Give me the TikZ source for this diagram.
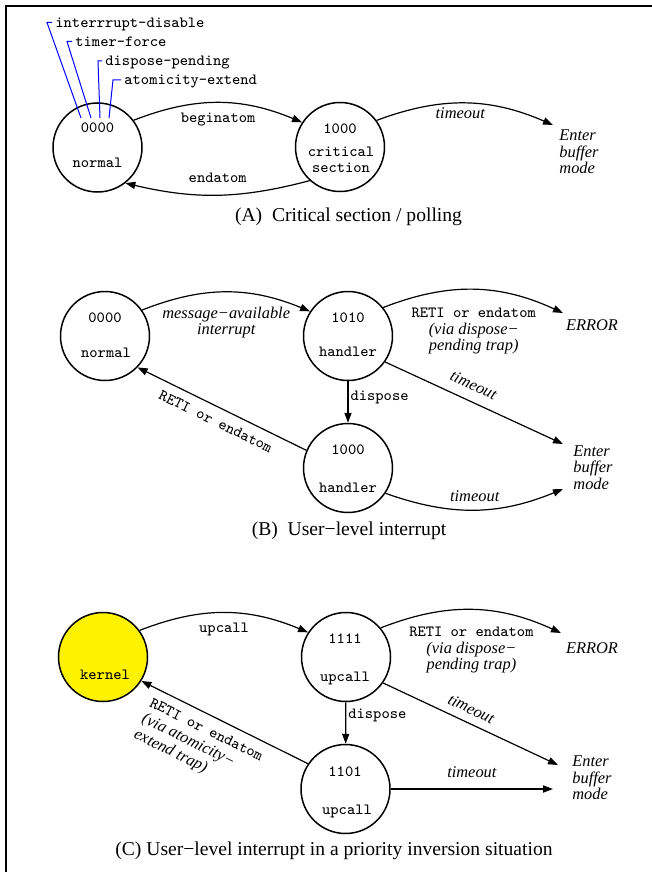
\documentclass[tikz,border=0pt]{standalone}
\usepackage{fontspec}
\setmainfont{Liberation Serif}
\usetikzlibrary{arrows.meta}
\newcommand\bitsfont{\ttfamily\upshape\fontsize{7.8}{8}\selectfont}
\newcommand\condfont{\itshape\fontsize{8.2}{8.2}\selectfont}
\newcommand\captfont{\fontsize{9.8}{11}\selectfont}
\begin{document}
\begin{tikzpicture}[x=0.5pt, y=0.5pt,
  state/.style={circle, draw, line width=0.75pt, minimum size=44.5pt, inner sep=0pt},
  bits/.style={font=\bitsfont, inner sep=0pt, text height=4.6pt, text depth=0pt, align=center},
  cond/.style={font=\condfont, inner sep=1pt, align=center},
  dest/.style={font=\condfont, inner sep=1pt, align=left, anchor=west},
  capt/.style={font=\captfont, inner sep=0pt},
  trans/.style={-{Triangle[length=5pt,width=3.6pt]}, line width=0.6pt},
  bitline/.style={blue, line width=0.5pt}]
\useasboundingbox (0,0) rectangle (652,-872);
\draw[line width=1pt] (5.8,-872) -- (5.8,-6.5) -- (652,-6.5);

\node[state] (nrmA) at (97.5,-147.5){};
\node[bits] (nrmAbits) at (97.5,-128){0000};
\node[bits] (nrmAname) at (97.5,-163){normal};
\node[state] (crtA) at (340,-147){};
\node[bits] (crtAbits) at (340,-129){1000};
\node[bits] (crtAname) at (341,-168){critical\\section};
\node[dest] (bufA) at (557,-152){Enter\\buffer\\mode};
\coordinate (bufAin) at (553,-125);
\draw[trans] (nrmA.37) to[bend left=22] node[bits, below=5pt] (lblBegin){beginatom} (crtA.147);
\draw[trans] (crtA.228) to[bend left=14] node[bits, above=6pt] (lblEnd){endatom} (nrmA.-52);
\draw[trans] (crtA.36) to[bend left=22] node[cond, below=1pt, pos=0.47] (lblToA){timeout} (bufAin);
\node[bits, anchor=west, inner sep=1.5pt] (bitIntr) at (52,-22.5){interrrupt-disable};
\node[bits, anchor=west, inner sep=1.5pt] (bitTimer) at (72,-41.5){timer-force};
\node[bits, anchor=west, inner sep=1.5pt] (bitDisp) at (102,-61){dispose-pending};
\node[bits, anchor=west, inner sep=1.5pt] (bitAtom) at (121,-80){atomicity-extend};
\coordinate (bitIntrEnd) at (81,-118);
\coordinate (bitTimerEnd) at (91,-118);
\coordinate (bitDispEnd) at (100,-118);
\coordinate (bitAtomEnd) at (109,-118);
\draw[bitline] (bitIntr.west) -- (47,-22.5) -- (bitIntrEnd);
\draw[bitline] (bitTimer.west) -- (67,-41.5) -- (bitTimerEnd);
\draw[bitline] (bitDisp.west) -- (98,-61) -- (bitDispEnd);
\draw[bitline] (bitAtom.west) -- (113,-80) -- (bitAtomEnd);
\node[capt] (captA) at (348.5,-217){(A)~~Critical section / polling};

\node[state] (nrmB) at (105,-336){};
\node[bits] (nrmBbits) at (105,-318){0000};
\node[bits] (nrmBname) at (106,-353){normal};
\node[state] (hdlB1) at (348,-336){};
\node[bits] (hdlB1bits) at (348,-318){1010};
\node[bits] (hdlB1name) at (348,-352){handler};
\node[state] (hdlB2) at (348,-468){};
\node[bits] (hdlB2bits) at (348,-450){1000};
\node[bits] (hdlB2name) at (348,-488){handler};
\node[cond] (errB) at (592,-325){ERROR};
\node[dest] (bufB) at (571,-467.5){Enter\\buffer\\mode};
\coordinate (errBin) at (563,-313);
\coordinate (bufBin1) at (563,-444);
\coordinate (bufBin2) at (563,-489);
\draw[trans] (nrmB.35) to[bend left=22] node[cond, below=6pt] (lblMsg){message−available\\interrupt} (hdlB1.147);
\draw[trans] (hdlB2.157) -- node[bits, sloped, below=4.5pt] (lblRetiB){RETI or endatom} (nrmB.-44);
\draw[trans] (hdlB1) -- node[bits, right=1pt, pos=0.35] (lblDispB){dispose} (hdlB2);
\draw[trans] (hdlB1.39) to[bend left=23] node[cond, below=8pt] (lblErrB){{\bitsfont RETI or endatom}\\(via dispose−\\pending trap)} (errBin);
\draw[trans] (hdlB1.-35) -- node[cond, sloped, above=4pt, pos=0.46] (lblToB1){timeout} (bufBin1);
\draw[trans] (hdlB2.-34) to[bend right=21] node[cond, above=3pt] (lblToB2){timeout} (bufBin2);
\node[capt] (captB) at (349,-531){(B)~~User−level interrupt};

\node[state, fill=yellow] (krnC) at (103,-657){};
\node[bits] (krnCname) at (105,-675){kernel};
\node[state] (upcC1) at (346,-657){};
\node[bits] (upcC1bits) at (345,-639){1111};
\node[bits] (upcC1name) at (345,-677){upcall};
\node[state] (upcC2) at (345.5,-789){};
\node[bits] (upcC2bits) at (345,-772){1101};
\node[bits] (upcC2name) at (347,-810){upcall};
\node[cond] (errC) at (592,-648){ERROR};
\node[dest] (bufC) at (570,-778){Enter\\buffer\\mode};
\coordinate (errCin) at (561,-633);
\coordinate (bufCin1) at (558,-765);
\coordinate (bufCin2) at (553,-789);
\draw[trans] (krnC.36) to[bend left=22] node[bits, below=4.75pt] (lblUpc){upcall} (upcC1.147);
\draw[trans] (upcC2.146) -- node[cond, sloped, below=3.5pt, pos=0.57, align=left] (lblRetiC){{\bitsfont RETI or endatom}\\[0.6pt](via atomicity−\\[0.6pt]extend trap)} (krnC.-32);
\draw[trans] (upcC1) -- node[bits, right=1pt, pos=0.28] (lblDispC){dispose} (upcC2);
\draw[trans] (upcC1.40) to[bend left=23] node[cond, below=7.5pt] (lblErrC){{\bitsfont RETI or endatom}\\(via dispose−\\pending trap)} (errCin);
\draw[trans] (upcC1.-35) -- node[cond, sloped, above=3pt, pos=0.47] (lblToC1){timeout} (bufCin1);
\draw[trans] (upcC2) -- node[cond, above=4.6pt] (lblToC2){timeout} (bufCin2);
\node[capt] (captC) at (334,-851){(C) User−level interrupt in a priority inversion situation};

\end{tikzpicture}
\end{document}
